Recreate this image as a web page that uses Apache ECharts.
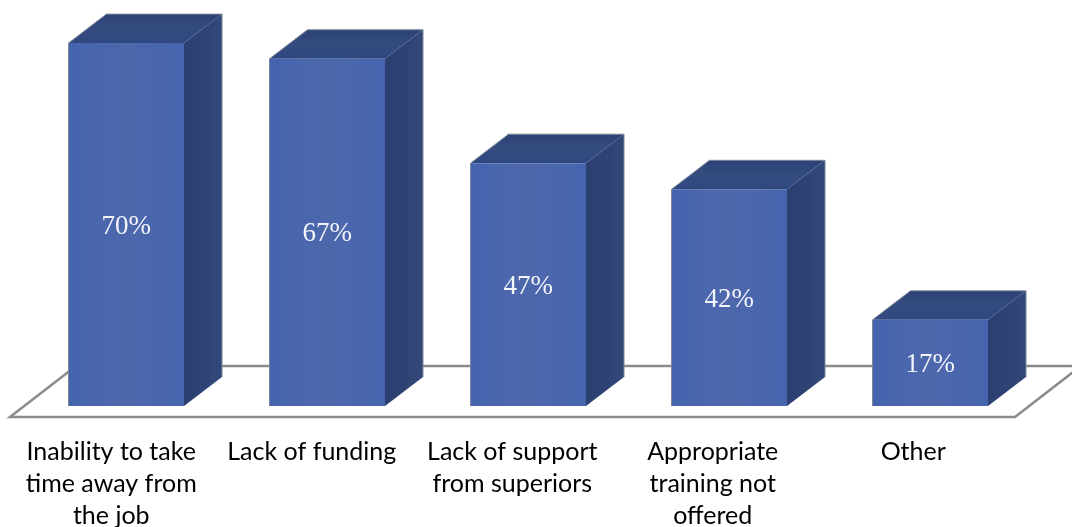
<!DOCTYPE html>
<html>
<head>
<meta charset="utf-8">
<style>
    html, body { margin: 0; padding: 0; background: #fff; }
    #chart { width: 1072px; height: 527px; }
</style>
<script src="https://cdn.jsdelivr.net/npm/echarts@6/dist/echarts.min.js"></script>
</head>
<body>
<div id="chart"></div>
<script>
var categories = [
    'Inability to take\ntime away from\nthe job',
    'Lack of funding',
    'Lack of support\nfrom superiors',
    'Appropriate\ntraining not\noffered',
    'Other'
];
var percents = [70, 67, 47, 42, 17];

// bars sit a bit right of their axis labels, like the original 3D chart
var barShift = 15;
var barWidth = 115.5;
var depthX = 38;
var depthY = 29;

var myChart = echarts.init(document.getElementById('chart'));

function hGrad(stops) {
    return new echarts.graphic.LinearGradient(0, 0, 1, 0, stops.map(function(c, i) {
        return { offset: i / (stops.length - 1), color: c };
    }));
}

function renderFloor(params, api) {
    var cs = params.coordSys;
    var base = cs.y + cs.height;
    return {
        type: 'polygon',
        shape: { points: [
            [cs.x - 1, base + 11],
            [cs.x + 1004, base + 11],
            [cs.x + 1070, base - 40],
            [cs.x + 65, base - 40]
        ] },
        style: { fill: 'none', stroke: '#8b8b8b', lineWidth: 2.5 },
        silent: true
    };
}

function renderBar(params, api) {
    var idx = api.value(0);
    var top = api.coord([idx, api.value(1)]);
    var x0 = top[0] + barShift + idx * 0.5 - barWidth / 2;
    var x1 = x0 + barWidth;
    var yT = top[1];
    var yB = params.coordSys.y + params.coordSys.height;
    return {
        type: 'group',
        children: [
            {
                // side face
                type: 'polygon',
                shape: { points: [[x1, yT], [x1 + depthX, yT - depthY], [x1 + depthX, yB - depthY], [x1, yB]] },
                style: { fill: hGrad(['#2b3f70', '#2e4374', '#33497a']) }
            },
            {
                // top face
                type: 'polygon',
                shape: { points: [[x0, yT], [x0 + depthX, yT - depthY], [x1 + depthX, yT - depthY], [x1, yT]] },
                style: { fill: new echarts.graphic.LinearGradient(0, 1, 0, 0, [
                    { offset: 0, color: '#2f4880' },
                    { offset: 0.5, color: '#354c7f' },
                    { offset: 1, color: '#2c4276' }
                ]) }
            },
            {
                // front face
                type: 'rect',
                shape: { x: x0, y: yT, width: barWidth, height: yB - yT },
                style: { fill: hGrad(['#4464ae', '#4a66ad', '#4d67ac', '#4a66ad', '#4665ae']) }
            },
            {
                // thin grey outline on the outer edges
                type: 'polyline',
                shape: { points: [[x0, yB], [x0, yT], [x0 + depthX, yT - depthY], [x1 + depthX, yT - depthY], [x1 + depthX, yB - depthY]] },
                style: { fill: 'none', stroke: '#7d8698', lineWidth: 1 }
            },
            {
                type: 'text',
                style: {
                    x: (x0 + x1) / 2,
                    y: (yT + yB) / 2 + 2,
                    text: api.value(1) + '%',
                    fill: '#f2f4fa',
                    font: '27px "Liberation Serif"',
                    align: 'center',
                    verticalAlign: 'middle'
                }
            }
        ]
    };
}

var option = {
    animation: false,
    backgroundColor: '#fff',
    grid: { left: 11, top: 17, bottom: 121, width: 1002.5, outerBoundsMode: 'none' },
    xAxis: {
        type: 'category',
        data: categories,
        axisLine: { show: false },
        axisTick: { show: false },
        axisLabel: {
            interval: 0,
            margin: 30,
            color: '#000',
            fontFamily: 'Lato',
            fontSize: 25,
            lineHeight: 32
        }
    },
    yAxis: {
        type: 'value',
        min: 0.5,
        max: 75,
        show: false,
        splitLine: { show: false }
    },
    series: [
        {
            type: 'custom',
            coordinateSystem: 'cartesian2d',
            renderItem: renderFloor,
            data: [[0, 0]],
            z: 1,
            silent: true
        },
        {
            type: 'custom',
            coordinateSystem: 'cartesian2d',
            renderItem: renderBar,
            encode: { x: 0, y: 1 },
            data: percents.map(function(v, i) { return [i, v]; }),
            z: 2
        }
    ]
};
myChart.setOption(option);
</script>
</body>
</html>
